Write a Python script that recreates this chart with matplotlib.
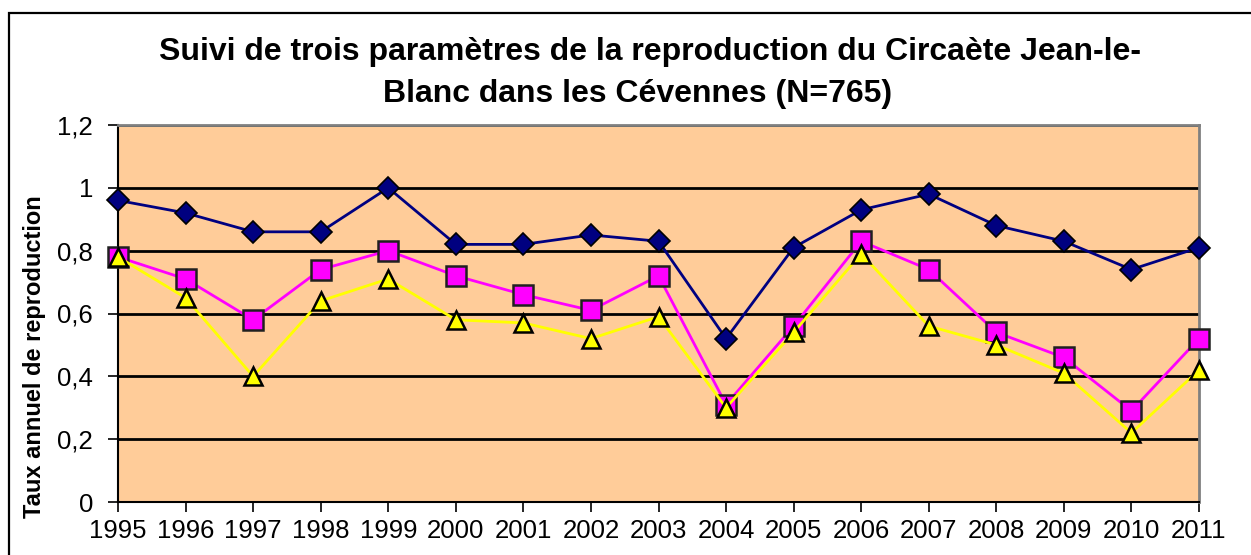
import matplotlib

matplotlib.use("Agg")
import matplotlib.pyplot as plt
from matplotlib.patches import Rectangle

plt.rcParams["font.family"] = ["Liberation Sans", "DejaVu Sans"]

years = list(range(1995, 2012))
# three reproduction parameters
serie_bleue = [0.96, 0.92, 0.86, 0.86, 1.00, 0.82, 0.82, 0.85, 0.83,
               0.52, 0.81, 0.93, 0.98, 0.88, 0.83, 0.74, 0.81]
serie_rose = [0.78, 0.71, 0.58, 0.74, 0.80, 0.72, 0.66, 0.61, 0.72,
              0.31, 0.56, 0.83, 0.74, 0.54, 0.46, 0.29, 0.52]
serie_jaune = [0.78, 0.65, 0.40, 0.64, 0.71, 0.58, 0.57, 0.52, 0.59,
               0.30, 0.54, 0.79, 0.56, 0.50, 0.41, 0.22, 0.42]
yticks = [0, 0.2, 0.4, 0.6, 0.8, 1.0, 1.2]
ytick_labels = ["0", "0,2", "0,4", "0,6", "0,8", "1", "1,2"]
titre_1 = "Suivi de trois paramètres de la reproduction du Circaète Jean-le-"
titre_2 = "Blanc dans les Cévennes (N=765)"

W, H = 1251, 555
fig = plt.figure(figsize=(W / 100, H / 100), dpi=100)

# outer chart frame (runs off the right and bottom edges)
fig.patches.append(Rectangle((9 / W, -0.1), 1.2, (H - 13) / H + 0.1, transform=fig.transFigure,
                             fill=False, edgecolor="black", linewidth=1.6))

ax = fig.add_axes([118 / W, (H - 502) / H, (1199 - 118) / W, (502 - 125) / H])
ax.set_facecolor("#FFCC99")

ax.plot(years, serie_bleue, color="#000080", linewidth=2, marker="D", markersize=11,
        markerfacecolor="#000080", markeredgecolor="black", markeredgewidth=1.2, clip_on=False, zorder=5)
ax.plot(years, serie_rose, color="#FF00FF", linewidth=2, marker="s", markersize=14,
        markerfacecolor="#FF00FF", markeredgecolor="#202020", markeredgewidth=1.8, clip_on=False, zorder=4)
ax.plot(years, serie_jaune, color="#FFFF00", linewidth=2, marker="^", markersize=13,
        markerfacecolor="#FFFF00", markeredgecolor="black", markeredgewidth=1.8, clip_on=False, zorder=6)

ax.set_xlim(1995, 2011)
ax.set_ylim(0, 1.2)
ax.set_xticks(years)
ax.set_xticklabels([str(y) for y in years], fontsize=18.5)
ax.set_yticks(yticks)
ax.set_yticklabels(ytick_labels, fontsize=18.5)
ax.tick_params(axis="both", direction="out", length=7, width=1.2, color="black")
ax.tick_params(axis="y", pad=11)
ax.tick_params(axis="x", pad=5)

ax.grid(axis="y", color="black", linewidth=2)
ax.set_axisbelow(True)
for s in ["top", "right"]:
    ax.spines[s].set_color("#808080")
    ax.spines[s].set_linewidth(2)
for s in ["left", "bottom"]:
    ax.spines[s].set_color("black")
    ax.spines[s].set_linewidth(1.5)

fig.text(35 / W, (H - 357) / H, "Taux annuel de reproduction", rotation=90, fontsize=17,
         fontweight="bold", ha="center", va="center")
fig.text(650 / W, (H - 52) / H, titre_1, fontsize=23, fontweight="bold", ha="center", va="center")
fig.text(638 / W, (H - 94) / H, titre_2, fontsize=23, fontweight="bold", ha="center", va="center")

fig.savefig("out.png", dpi=100)
plt.close(fig)
